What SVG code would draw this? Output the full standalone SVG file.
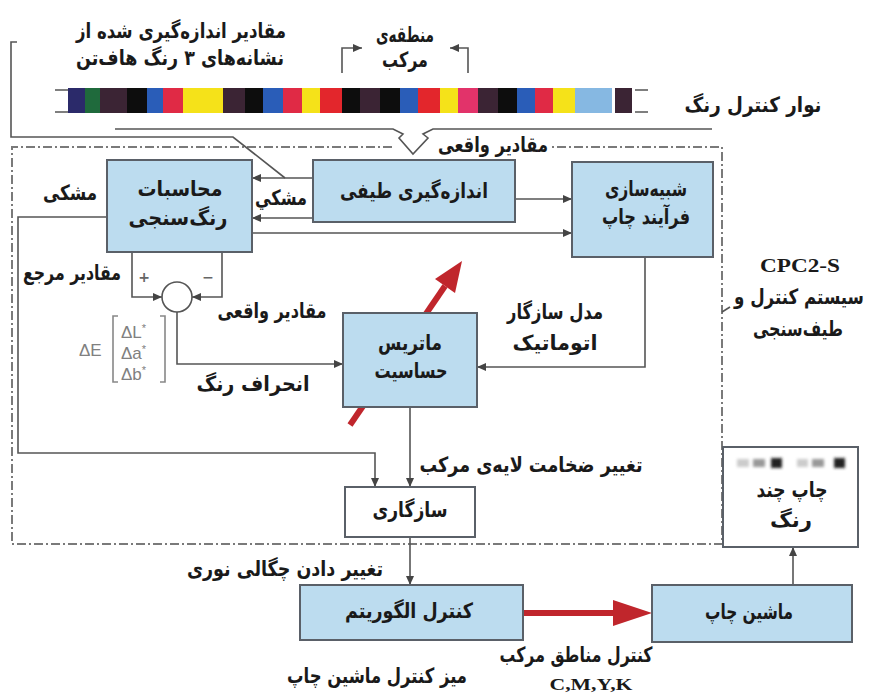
<svg xmlns="http://www.w3.org/2000/svg" width="870" height="698" viewBox="0 0 870 698">
<style>
.box{fill:#bcdcef;stroke:#5a6068;stroke-width:2}
.wbox{fill:#fff;stroke:#5a6068;stroke-width:2}
.ln{fill:none;stroke:#555;stroke-width:1.6}
.dash{fill:none;stroke:#7a7a7a;stroke-width:2;stroke-dasharray:9 3 2 3}
.t{font-family:"DejaVu Sans",sans-serif;font-weight:bold;font-size:21px;fill:#1a1a1a;text-anchor:middle}
.s{font-family:"Liberation Serif",serif;font-weight:bold;font-size:19px;fill:#1a1a1a;text-anchor:middle}
.g{font-family:"Liberation Sans",sans-serif;font-size:17px;fill:#808080}
.red{fill:none;stroke:#c0262c;stroke-width:6}
</style>
<defs>
<marker id="ah" markerUnits="userSpaceOnUse" markerWidth="9" markerHeight="8" refX="9" refY="4" orient="auto">
<path d="M0,0 L9,4 L0,8 z" fill="#444"/>
</marker>
<filter id="bl" x="-20%" y="-50%" width="140%" height="200%"><feGaussianBlur stdDeviation="1.5"/></filter>
</defs>
<rect width="870" height="698" fill="#fff"/>

<g id="colorbar">
<path d="M55,90 H68 M55,112 H68 M635,90 H648 M635,112 H648" class="ln" stroke="#888"/>
<rect x="68" y="88" width="17" height="25" fill="#2b2a6a"/>
<rect x="85" y="88" width="15" height="25" fill="#1f6a3c"/>
<rect x="100" y="88" width="27" height="25" fill="#3b2434"/>
<rect x="127" y="88" width="20" height="25" fill="#0d0d0d"/>
<rect x="147" y="88" width="16" height="25" fill="#2a5db8"/>
<rect x="163" y="88" width="20" height="25" fill="#e02a45"/>
<rect x="183" y="88" width="40" height="25" fill="#f5e219"/>
<rect x="223" y="88" width="22" height="25" fill="#3b2434"/>
<rect x="245" y="88" width="18" height="25" fill="#0d0d0d"/>
<rect x="263" y="88" width="20" height="25" fill="#2a5db8"/>
<rect x="283" y="88" width="19" height="25" fill="#e02a45"/>
<rect x="302" y="88" width="18" height="25" fill="#f5e219"/>
<rect x="320" y="88" width="22" height="25" fill="#e3262c"/>
<rect x="342" y="88" width="18" height="25" fill="#0d0d0d"/>
<rect x="360" y="88" width="20" height="25" fill="#3b2434"/>
<rect x="380" y="88" width="20" height="25" fill="#0d0d0d"/>
<rect x="400" y="88" width="18" height="25" fill="#2a5db8"/>
<rect x="418" y="88" width="22" height="25" fill="#e3262c"/>
<rect x="440" y="88" width="18" height="25" fill="#f5e219"/>
<rect x="458" y="88" width="20" height="25" fill="#e2336a"/>
<rect x="478" y="88" width="20" height="25" fill="#3b2434"/>
<rect x="498" y="88" width="19" height="25" fill="#0d0d0d"/>
<rect x="517" y="88" width="18" height="25" fill="#2a5db8"/>
<rect x="535" y="88" width="18" height="25" fill="#e02a45"/>
<rect x="553" y="88" width="22" height="25" fill="#f5e219"/>
<rect x="575" y="88" width="37" height="25" fill="#86b8e2"/>
<rect x="615" y="88" width="17" height="25" fill="#3b2434"/>
</g>

<g id="boundary">
<path class="dash" d="M392,147 H12 V544 H722 V147 H552"/>
<path class="ln" d="M722,312 L730,307"/>
</g>

<g id="connectors">
<path class="ln" d="M115,129 H393 L403,134 L399,138 L413,154 L428,138 L423,134 L433,129 H712"/>
<path class="ln" d="M342,73 V48 H362" marker-end="url(#ah)"/>
<path class="ln" d="M468,73 V48 H450" marker-end="url(#ah)"/>
<path class="ln" d="M17,42 H11 V137 H233 L285,178"/>
<path class="ln" d="M313,178 H252" marker-end="url(#ah)"/>
<path class="ln" d="M313,218 H252" marker-end="url(#ah)"/>
<path class="ln" d="M252,233 H572" marker-end="url(#ah)"/>
<path class="ln" d="M515,199 H572" marker-end="url(#ah)"/>
<path class="ln" d="M107,217 H18 V453 H375 V487" marker-end="url(#ah)"/>
<path class="ln" d="M132,252 V297 H162" marker-end="url(#ah)"/>
<path class="ln" d="M222,252 V297 H192" marker-end="url(#ah)"/>
<path class="ln" d="M177,312 V364 H343" marker-end="url(#ah)"/>
<path class="ln" d="M645,257 V367 H477" marker-end="url(#ah)"/>
<path class="ln" d="M410,407 V487" marker-end="url(#ah)"/>
<path class="ln" d="M410,537 V585" marker-end="url(#ah)"/>
<path class="ln" d="M793,585 V547" marker-end="url(#ah)"/>
<circle cx="177" cy="297" r="15" fill="#fff" stroke="#555" stroke-width="1.6"/>
<line class="red" x1="350" y1="425" x2="445" y2="286"/>
<polygon points="462,261 455,293 435,279" fill="#c0262c"/>
<line class="red" x1="523" y1="613" x2="615" y2="613"/>
<polygon points="613,600 652,613 613,626" fill="#c0262c"/>
</g>

<g id="calc">
<rect class="box" x="107" y="160" width="145" height="92"/>
<text class="t" x="180" y="196" textLength="85" lengthAdjust="spacingAndGlyphs">محاسبات</text>
<text class="t" x="178" y="225" textLength="99" lengthAdjust="spacingAndGlyphs">رنگ&#x200C;سنجی</text>
</g>
<g id="measure">
<rect class="box" x="313" y="160" width="202" height="62"/>
<text class="t" x="414" y="198" textLength="148" lengthAdjust="spacingAndGlyphs">اندازه&#x200C;گیری طیفی</text>
</g>
<g id="simulate">
<rect class="box" x="572" y="162" width="141" height="95"/>
<text class="t" x="646" y="196" textLength="82" lengthAdjust="spacingAndGlyphs">شبیه&#x200C;سازی</text>
<text class="t" x="646" y="224" textLength="88" lengthAdjust="spacingAndGlyphs">فرآیند چاپ</text>
</g>
<g id="matrix">
<rect class="box" x="343" y="313" width="134" height="94"/>
<text class="t" x="410" y="350" textLength="64" lengthAdjust="spacingAndGlyphs">ماتریس</text>
<text class="t" x="411" y="378" textLength="73" lengthAdjust="spacingAndGlyphs">حساسیت</text>
</g>
<g id="adapt">
<rect class="wbox" x="345" y="487" width="130" height="50"/>
<text class="t" x="410" y="517" textLength="75" lengthAdjust="spacingAndGlyphs">سازگاری</text>
</g>
<g id="algo">
<rect class="box" x="300" y="585" width="223" height="55"/>
<text class="t" x="409" y="618" textLength="128" lengthAdjust="spacingAndGlyphs">کنترل الگوریتم</text>
</g>
<g id="press">
<rect class="box" x="652" y="585" width="200" height="57"/>
<text class="t" x="749" y="619" textLength="88" lengthAdjust="spacingAndGlyphs">ماشین چاپ</text>
</g>
<g id="print">
<rect class="wbox" x="723" y="447" width="135" height="100"/>
<g filter="url(#bl)">
<rect x="737" y="459" width="12" height="8" fill="#ccc"/>
<rect x="753" y="459" width="12" height="8" fill="#999"/>
<rect x="771" y="458" width="11" height="10" fill="#222"/>
<rect x="797" y="459" width="11" height="8" fill="#ccc"/>
<rect x="812" y="459" width="12" height="8" fill="#999"/>
<rect x="834" y="458" width="11" height="10" fill="#222"/>
</g>
<text class="t" x="792" y="497" textLength="71" lengthAdjust="spacingAndGlyphs">چاپ چند</text>
<text class="t" x="791" y="527" textLength="42" lengthAdjust="spacingAndGlyphs">رنگ</text>
</g>

<g id="labels">
<text class="t" x="181" y="38" textLength="210" lengthAdjust="spacingAndGlyphs">مقادیر اندازه&#x200C;گیری شده از</text>
<text class="t" x="180" y="65" textLength="208" lengthAdjust="spacingAndGlyphs">نشانه&#x200C;های ۳ رنگ هاف&#x200C;تن</text>
<text class="t" x="405" y="42" textLength="58" lengthAdjust="spacingAndGlyphs">منطقه&#x200C;ی</text>
<text class="t" x="405" y="67" textLength="46" lengthAdjust="spacingAndGlyphs">مرکب</text>
<text class="t" x="753" y="112" textLength="137" lengthAdjust="spacingAndGlyphs">نوار کنترل رنگ</text>
<text class="t" x="493" y="152" textLength="110" lengthAdjust="spacingAndGlyphs">مقادیر واقعی</text>
<text class="t" x="70" y="200" textLength="54" lengthAdjust="spacingAndGlyphs">مشکی</text>
<text class="t" x="281" y="205" textLength="52" lengthAdjust="spacingAndGlyphs">مشکي</text>
<text class="t" x="72" y="280" textLength="98" lengthAdjust="spacingAndGlyphs">مقادیر مرجع</text>
<text class="t" x="144" y="282" style="font-size:14px;fill:#666">+</text>
<text class="t" x="208" y="282" style="font-size:14px;fill:#666">−</text>
<text class="t" x="272" y="318" textLength="109" lengthAdjust="spacingAndGlyphs">مقادیر واقعی</text>
<text class="t" x="253" y="391" textLength="113" lengthAdjust="spacingAndGlyphs">انحراف رنگ</text>
<text class="g" x="79" y="356">ΔE</text>
<path d="M118,316 H113 V382 H118 M160,316 H165 V382 H160" fill="none" stroke="#888" stroke-width="1.6"/>
<text class="g" x="121" y="338">ΔL<tspan dy="-6" font-size="11">*</tspan></text>
<text class="g" x="121" y="359">Δa<tspan dy="-6" font-size="11">*</tspan></text>
<text class="g" x="121" y="380">Δb<tspan dy="-6" font-size="11">*</tspan></text>
<text class="t" x="555" y="319" textLength="96" lengthAdjust="spacingAndGlyphs">مدل سازگار</text>
<text class="t" x="555" y="350" textLength="85" lengthAdjust="spacingAndGlyphs">اتوماتیک</text>
<text class="s" x="800" y="272" textLength="80" lengthAdjust="spacingAndGlyphs">CPC2-S</text>
<text class="t" x="799" y="304" textLength="130" lengthAdjust="spacingAndGlyphs">سیستم کنترل و</text>
<text class="t" x="798" y="336" textLength="90" lengthAdjust="spacingAndGlyphs">طیف&#x200C;سنجی</text>
<text class="t" x="531" y="472" textLength="223" lengthAdjust="spacingAndGlyphs">تغییر ضخامت لایه&#x200C;ی مرکب</text>
<text class="t" x="285" y="576" textLength="196" lengthAdjust="spacingAndGlyphs">تغییر دادن چگالی نوری</text>
<text class="t" x="576" y="662" textLength="153" lengthAdjust="spacingAndGlyphs">کنترل مناطق مرکب</text>
<text class="s" x="591" y="690" style="font-size:17px" textLength="83" lengthAdjust="spacingAndGlyphs">C,M,Y,K</text>
<text class="t" x="377" y="683" textLength="180" lengthAdjust="spacingAndGlyphs">میز کنترل ماشین چاپ</text>
</g>
</svg>
